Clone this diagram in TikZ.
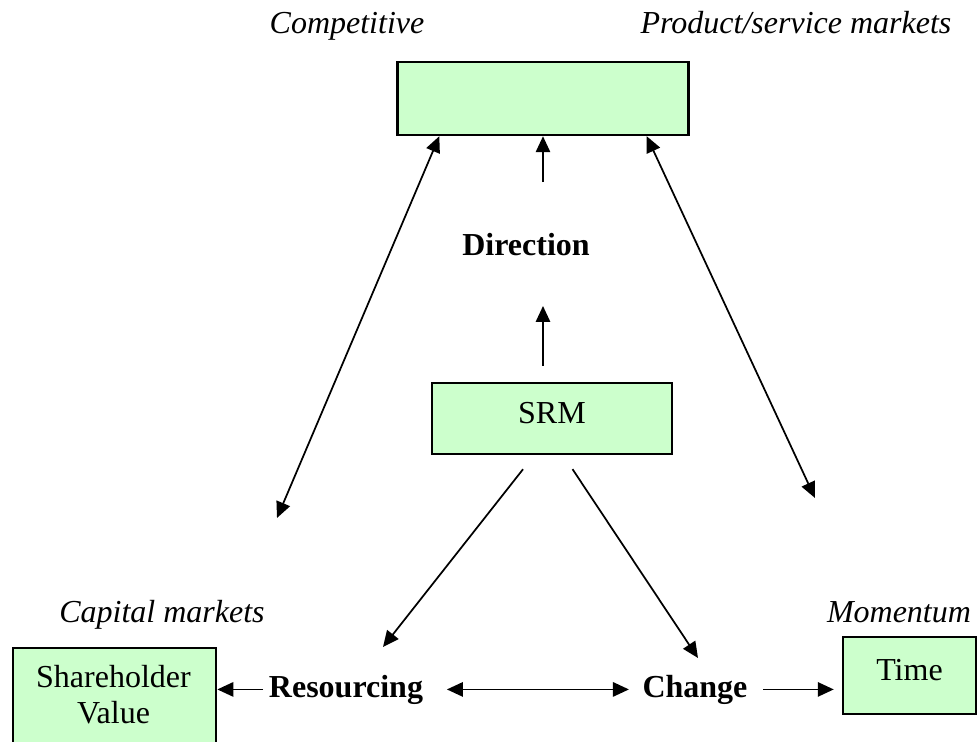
\documentclass[tikz,border=0pt]{standalone}
\usepackage{fontspec}
\setmainfont{Liberation Serif}
\usetikzlibrary{arrows.meta}
\definecolor{paleGreen}{HTML}{CCFFCC}
\tikzset{line/.style={draw, line width=0.65pt, -{Triangle[length=6pt,width=5.4pt]}}}
\tikzset{twoway/.style={line, {Triangle[length=6pt,width=5.4pt]}-{Triangle[length=6pt,width=5.4pt]}}}

\begin{document}
\begin{tikzpicture}[x=0.375pt, y=-0.375pt, font=\fontsize{12}{13.5}\selectfont]
\tikzstyle{block} = [rectangle, draw, fill=paleGreen, line width=0.9pt, inner sep=0pt]
\tikzstyle{raised} = [text height=8pt, text depth=4.6pt]
\tikzstyle{heading} = [inner sep=2pt, anchor=base, font=\fontsize{12}{13.5}\selectfont\itshape]
\tikzstyle{stage} = [inner sep=2pt, anchor=base, font=\fontsize{12}{13.5}\selectfont\bfseries]

\useasboundingbox (0,0) rectangle (977,742);

\node [block, minimum width=109.1pt, minimum height=27.4pt](market) at (543,98.5){};
\node [block, raised, minimum width=90pt, minimum height=26.6pt](srm) at (552,418.5){SRM};
\node [block, raised, minimum width=49.9pt, minimum height=28.9pt](time) at (909.5,675.5){Time};
\node [block, anchor=north west, minimum width=76.1pt, minimum height=45pt](holder) at (12,647){};
\node [anchor=north, inner sep=0pt, align=center](holdertext) at (113.5,665){Shareholder\\Value};

\node [heading](competitive) at (347,33){Competitive};
\node [heading](productmarkets) at (796,33){Product/service markets};
\node [heading](capitalmarkets) at (162,622){Capital markets};
\node [heading](momentum) at (899,622){Momentum};

\node [stage](direction) at (526,255){Direction};
\node [stage](resourcing) at (346,697){Resourcing};
\node [stage](change) at (695,697){Change};

\coordinate (compend) at (277,518);
\coordinate (prodend) at (815,498);
\coordinate (toresourcing) at (383,647);
\coordinate (tochange) at (698,658);

\path [line, shorten <=6pt, shorten >=16.8pt] (srm.north -| market.south) -- (direction.south -| market.south);
\path [line, shorten <=16.8pt] (direction.north -| market.south) -- (market.south);
\path [twoway] (market.200) -- (compend);
\path [twoway] (market.340) -- (prodend);
\path [line, shorten <=6.7pt] (srm.244) -- (toresourcing);
\path [line, shorten <=6.3pt] (srm.287) -- (tochange);
\path [line] (resourcing.west) -- (resourcing.west -| holder.east);
\path [twoway, shorten <=6.75pt, shorten >=2.9pt] (resourcing.east) -- (change.west);
\path [line, shorten <=3.75pt, shorten >=3pt] (change.east) -- (change.east -| time.west);

\end{tikzpicture}
\end{document}
